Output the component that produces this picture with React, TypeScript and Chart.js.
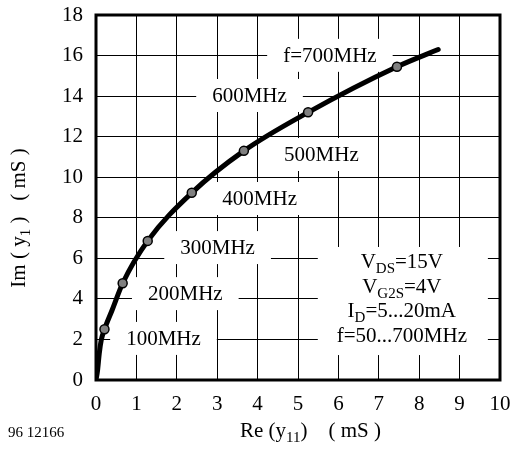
import React, { useEffect, useRef } from "react";
import { Chart, registerables } from "chart.js";

Chart.register(...registerables);

// ---- data ----
const curveRe = [0, 0.04, 0.08, 0.13, 0.21, 0.4, 0.66, 1.28, 2.37, 3.66, 5.25, 7.45, 8.47];
const curveIm = [0, 0.5, 1.3, 1.97, 2.5, 3.45, 4.77, 6.86, 9.23, 11.3, 13.2, 15.45, 16.3];
const markerRe = [0.21, 0.66, 1.28, 2.37, 3.66, 5.25, 7.45];
const markerIm = [2.5, 4.77, 6.86, 9.23, 11.3, 13.2, 15.45];
const freqLabels = ["100MHz", "200MHz", "300MHz", "400MHz", "500MHz", "600MHz", "f=700MHz"];
const labelRe = [1.67, 2.21, 3.01, 4.05, 5.58, 3.8, 5.79];
const labelIm = [1.73, 3.94, 6.21, 8.63, 10.8, 13.71, 15.69];
const xMin = 0;
const xMax = 10;
const xStep = 1;
const yMin = 0;
const yMax = 18;
const yStep = 2;
// parameter note (main text, subscript) segments
const noteLines: { t: string; sub?: boolean }[][] = [
  [{ t: "V" }, { t: "DS", sub: true }, { t: "=15V" }],
  [{ t: "V" }, { t: "G2S", sub: true }, { t: "=4V" }],
  [{ t: "I" }, { t: "D", sub: true }, { t: "=5...20mA" }],
  [{ t: "f=50...700MHz" }],
];
const noteBoxRe = [5.49, 9.7];
const noteBoxIm = [1.23, 6.56];
const noteCenterRe = 7.57;
const xTitle = [{ t: "Re (y" }, { t: "11", sub: true }, { t: ")    ( mS )" }];
const yTitle = [{ t: "Im ( y" }, { t: "1", sub: true }, { t: " )   ( mS )" }];
const figureId = "96 12166";

const FONT = '"Liberation Serif", "Times New Roman", serif';
const MAIN = 21;
const SUB = 15;

type Seg = { t: string; sub?: boolean };

function richWidth(ctx: CanvasRenderingContext2D, segs: Seg[]) {
  let w = 0;
  for (const s of segs) {
    ctx.font = `${s.sub ? SUB : MAIN}px ${FONT}`;
    w += ctx.measureText(s.t).width;
  }
  return w;
}

function drawRich(
  ctx: CanvasRenderingContext2D,
  segs: Seg[],
  x: number,
  y: number,
  align: "left" | "center"
) {
  const total = richWidth(ctx, segs);
  let cx = align === "center" ? x - total / 2 : x;
  ctx.textAlign = "left";
  ctx.textBaseline = "alphabetic";
  for (const s of segs) {
    ctx.font = `${s.sub ? SUB : MAIN}px ${FONT}`;
    ctx.fillText(s.t, cx, y + (s.sub ? 5 : 0));
    cx += ctx.measureText(s.t).width;
  }
}

const annotPlugin = {
  id: "annot",
  beforeDatasetsDraw(chart: any) {
    const ctx: CanvasRenderingContext2D = chart.ctx;
    const xs = chart.scales.x;
    const ys = chart.scales.y;
    const area = chart.chartArea;
    ctx.save();
    ctx.fillStyle = "#000";
    // frequency labels with white boxes
    freqLabels.forEach((lab, i) => {
      const px = xs.getPixelForValue(labelRe[i]);
      const py = ys.getPixelForValue(labelIm[i]);
      ctx.font = `${MAIN}px ${FONT}`;
      const w = ctx.measureText(lab).width;
      ctx.fillStyle = "#fff";
      ctx.fillRect(px - w / 2 - 16, py - 23, w + 32, 33);
      ctx.fillStyle = "#000";
      ctx.textAlign = "center";
      ctx.textBaseline = "alphabetic";
      ctx.fillText(lab, px, py);
    });
    // parameter note
    const bx0 = xs.getPixelForValue(noteBoxRe[0]);
    const bx1 = xs.getPixelForValue(noteBoxRe[1]);
    const by0 = ys.getPixelForValue(noteBoxIm[1]);
    const by1 = ys.getPixelForValue(noteBoxIm[0]);
    ctx.fillStyle = "#fff";
    ctx.fillRect(bx0, by0, bx1 - bx0, by1 - by0);
    ctx.fillStyle = "#000";
    const ncx = xs.getPixelForValue(noteCenterRe);
    noteLines.forEach((segs, i) => {
      drawRich(ctx, segs, ncx, by0 + 21 + i * 24.7, "center");
    });
    // frame
    ctx.strokeStyle = "#000";
    ctx.lineWidth = 3;
    ctx.strokeRect(area.left, area.top, area.right - area.left, area.bottom - area.top);
    ctx.restore();
  },
  afterDraw(chart: any) {
    const ctx: CanvasRenderingContext2D = chart.ctx;
    ctx.save();
    ctx.fillStyle = "#000";
    // x title
    drawRich(ctx, xTitle, 240, 437, "left");
    // y title (rotated)
    ctx.translate(25, 218);
    ctx.rotate(-Math.PI / 2);
    drawRich(ctx, yTitle, 0, 0, "center");
    ctx.restore();
    ctx.save();
    ctx.fillStyle = "#000";
    ctx.font = `15px ${FONT}`;
    ctx.textAlign = "left";
    ctx.textBaseline = "alphabetic";
    ctx.fillText(figureId, 8, 437);
    ctx.restore();
  },
};

export default function App() {
  const ref = useRef<HTMLCanvasElement | null>(null);
  useEffect(() => {
    if (!ref.current) return;
    const curve = curveRe.map((x, i) => ({ x, y: curveIm[i] }));
    const markers = markerRe.map((x, i) => ({ x, y: markerIm[i] }));
    const tickFont = { family: FONT, size: MAIN };
    const chart = new Chart(ref.current, {
      type: "scatter",
      data: {
        datasets: [
          {
            data: markers,
            showLine: false,
            pointRadius: 4.5,
            pointBackgroundColor: "#808080",
            pointBorderColor: "#000",
            pointBorderWidth: 1.5,
            order: 0,
          } as any,
          {
            data: curve,
            showLine: true,
            pointRadius: 0,
            borderColor: "#000",
            borderWidth: 5,
            cubicInterpolationMode: "monotone",
            borderCapStyle: "round",
            borderJoinStyle: "round",
            order: 1,
          } as any,
        ],
      },
      options: {
        responsive: false,
        animation: false,
        layout: { padding: { top: 15, right: 10, left: 0, bottom: 0 } },
        plugins: { legend: { display: false }, tooltip: { enabled: false } },
        scales: {
          x: {
            type: "linear",
            min: xMin,
            max: xMax,
            ticks: { stepSize: xStep, font: tickFont, color: "#000", padding: 12 },
            grid: { color: "#000", lineWidth: 1, drawTicks: false },
            border: { display: false },
            afterFit: (s: any) => {
              s.height = 74;
              s.paddingLeft = 0;
              s.paddingRight = 0;
            },
          },
          y: {
            type: "linear",
            min: yMin,
            max: yMax,
            ticks: { stepSize: yStep, font: tickFont, color: "#000", padding: 13 },
            grid: { color: "#000", lineWidth: 1, drawTicks: false },
            border: { display: false },
            afterFit: (s: any) => {
              s.width = 96;
              s.paddingTop = 0;
              s.paddingBottom = 0;
            },
          },
        },
      },
      plugins: [annotPlugin],
    } as any);
    return () => chart.destroy();
  }, []);
  return (
    <div style={{ position: "absolute", left: 0, top: 0, width: 510, height: 454, background: "#fff" }}>
      <canvas ref={ref} width={510} height={454} style={{ display: "block" }} />
    </div>
  );
}
